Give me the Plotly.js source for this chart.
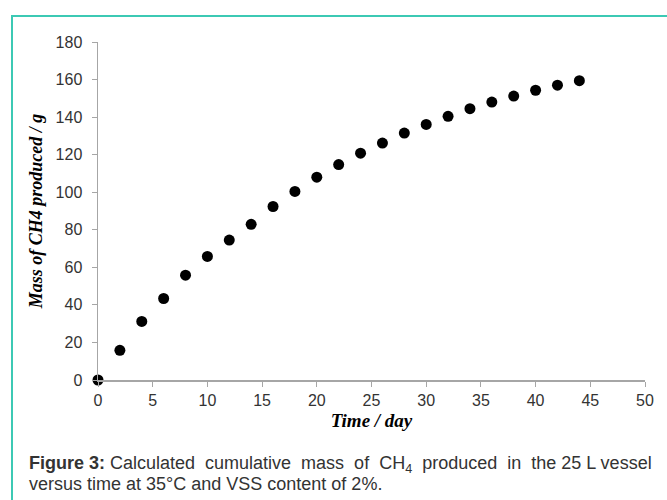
<!DOCTYPE html>
<html>
<head>
<meta charset="utf-8">
<script src="https://cdn.plot.ly/plotly-3.0.1.min.js"></script>
<style>html,body{margin:0;padding:0;background:#fff;}#chart{width:667px;height:500px;}</style>
</head>
<body>
<div id="chart"></div>
<script>
const days = [0, 2, 4, 6, 8, 10, 12, 14, 16, 18, 20, 22, 24, 26, 28, 30, 32, 34, 36, 38, 40, 42, 44];
const massCH4 = [0, 15.8, 31.2, 43.4, 55.8, 65.8, 74.5, 82.9, 92.4, 100.4, 108, 114.7, 120.8, 126.2, 131.5, 136.1, 140.4, 144.5, 148, 151.2, 154.3, 157, 159.4];
const xTicks = [0, 5, 10, 15, 20, 25, 30, 35, 40, 45, 50];
const yTicks = [0, 20, 40, 60, 80, 100, 120, 140, 160, 180];
const xTitle = 'Time / day';
const yTitle = 'Mass of CH4 produced / g';
const captionLine1 = '<b>Figure 3:</b> Calculated  cumulative  mass  of  CH<sub>4</sub>  produced  in  the 25 L vessel';
const captionLine2 = 'versus time at 35°C and VSS content of 2%.';

const L = 98, R = 22, T = 42, B = 120, W = 667, H = 500;
const pw = W - L - R, ph = H - T - B;
const px = v => (v - L) / pw;
const py = v => (H - B - v) / ph;

const trace = {
  x: days, y: massCH4, type: 'scatter', mode: 'markers',
  marker: {color: '#000', size: 11},
  cliponaxis: false, hoverinfo: 'x+y'
};

const axisFont = {family: 'Liberation Sans, Arial, sans-serif', size: 16, color: '#333'};
const xTitleFont = {family: 'Liberation Serif, Times New Roman, serif', size: 19, color: '#000', weight: 'bold', style: 'italic'};
const yTitleFont = {family: 'Liberation Serif, Times New Roman, serif', size: 18, color: '#000', weight: 'bold', style: 'italic'};
const captionFont = {family: 'Liberation Sans, Arial, sans-serif', size: 18, color: '#333'};

const layout = {
  width: W, height: H,
  margin: {l: L, r: R, t: T, b: B},
  paper_bgcolor: '#fff', plot_bgcolor: '#fff',
  showlegend: false,
  xaxis: {
    range: [0, 50], tickvals: xTicks, ticktext: xTicks.map(String),
    showgrid: false, zeroline: false, showline: true, linecolor: '#a6a6a6', linewidth: 1.5,
    ticks: 'outside', ticklen: 5, tickcolor: '#a6a6a6', tickfont: axisFont,
    title: {text: '<b><i>' + xTitle + '</i></b>', font: xTitleFont, standoff: 6}
  },
  yaxis: {
    range: [0, 180], tickvals: yTicks, ticktext: yTicks.map(String),
    showgrid: false, zeroline: false, showline: true, linecolor: '#a6a6a6', linewidth: 1.5,
    ticks: 'outside', ticklen: 5, tickcolor: '#a6a6a6', tickfont: axisFont, ticklabelstandoff: 6,
    title: {text: '<b><i>' + yTitle + '</i></b>', font: yTitleFont, standoff: 8}
  },
  shapes: [
    {type: 'line', xref: 'paper', yref: 'paper', x0: px(12), x1: px(12), y0: py(16), y1: py(505), line: {color: '#3cc9b4', width: 2}},
    {type: 'line', xref: 'paper', yref: 'paper', x0: px(11), x1: px(670), y0: py(16), y1: py(16), line: {color: '#3cc9b4', width: 2}}
  ],
  annotations: [
    {xref: 'paper', yref: 'paper', x: px(27), y: py(464), xanchor: 'left', yanchor: 'middle', showarrow: false,
     text: captionLine1, font: captionFont},
    {xref: 'paper', yref: 'paper', x: px(27), y: py(484), xanchor: 'left', yanchor: 'middle', showarrow: false,
     text: captionLine2, font: captionFont}
  ]
};

Plotly.newPlot('chart', [trace], layout, {displayModeBar: false, staticPlot: true});
</script>
</body>
</html>
